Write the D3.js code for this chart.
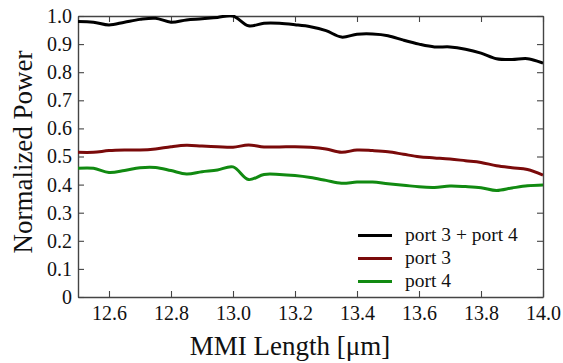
<!DOCTYPE html>
<html>
<head>
<meta charset="utf-8">
<script src="https://cdn.jsdelivr.net/npm/d3@7"></script>
<style>
  body { margin: 0; background: #fff; }
  svg text { font-family: "Liberation Serif", "Times New Roman", serif; }
</style>
</head>
<body>
<div id="chart"></div>
<script>
// MMI length (um), sampled every 0.05
const lengths = [12.5, 12.55, 12.6, 12.65, 12.7, 12.75, 12.8, 12.85, 12.9, 12.95,
                 13.0, 13.05, 13.1, 13.15, 13.2, 13.25, 13.3, 13.35, 13.4, 13.45,
                 13.5, 13.55, 13.6, 13.65, 13.7, 13.75, 13.8, 13.85, 13.9, 13.95, 14.0];
const port34 = [0.980, 0.978, 0.968, 0.978, 0.988, 0.992, 0.978, 0.986, 0.990, 0.995,
                1.000, 0.965, 0.974, 0.974, 0.969, 0.962, 0.948, 0.925, 0.935, 0.936,
                0.930, 0.914, 0.900, 0.890, 0.890, 0.882, 0.868, 0.848, 0.845, 0.848, 0.832];
const port3 = [0.515, 0.515, 0.521, 0.523, 0.523, 0.527, 0.535, 0.540, 0.537, 0.535,
               0.533, 0.541, 0.534, 0.534, 0.535, 0.533, 0.527, 0.515, 0.523, 0.521,
               0.517, 0.508, 0.499, 0.495, 0.491, 0.485, 0.479, 0.467, 0.460, 0.454, 0.434];
const port4 = [0.458, 0.458, 0.443, 0.450, 0.460, 0.461, 0.450, 0.438, 0.446, 0.452,
               0.463, 0.418, 0.436, 0.436, 0.432, 0.425, 0.415, 0.405, 0.409, 0.409,
               0.403, 0.398, 0.392, 0.390, 0.395, 0.393, 0.389, 0.379, 0.388, 0.396, 0.399];
const seriesNames = ["port 3 + port 4", "port 3", "port 4"];
const xTicks = [12.6, 12.8, 13.0, 13.2, 13.4, 13.6, 13.8, 14.0];
const yTicks = [0, 0.1, 0.2, 0.3, 0.4, 0.5, 0.6, 0.7, 0.8, 0.9, 1.0];

const w = 563, h = 363;
const plotL = 78, plotR = 543, plotT = 16, plotB = 297;
const colors = ["#000000", "#7a0a0a", "#118a11"];
const serif = "'Liberation Serif', 'Times New Roman', serif";

const svg = d3.select("#chart").append("svg")
  .attr("width", w).attr("height", h)
  .attr("font-family", serif);

const xScale = d3.scaleLinear().domain([12.5, 14.0]).range([plotL, plotR]);
const yScale = d3.scaleLinear().domain([0, 1.0]).range([plotB, plotT]);

const axisColor = "#444";
const fmtY = (d) => d === 0 ? "0" : d3.format(".1f")(d);

const gx = svg.append("g")
  .attr("transform", "translate(0," + plotB + ")")
  .call(d3.axisBottom(xScale).tickValues(xTicks).tickFormat(d3.format(".1f"))
        .tickSize(-6).tickSizeOuter(0).tickPadding(9));
const gxTop = svg.append("g")
  .attr("transform", "translate(0," + plotT + ")")
  .call(d3.axisTop(xScale).tickValues(xTicks).tickFormat("")
        .tickSize(-6).tickSizeOuter(0));
const gy = svg.append("g")
  .attr("transform", "translate(" + plotL + ",0)")
  .call(d3.axisLeft(yScale).tickValues(yTicks).tickFormat(fmtY)
        .tickSize(-6).tickSizeOuter(0).tickPadding(6));
const gyRight = svg.append("g")
  .attr("transform", "translate(" + plotR + ",0)")
  .call(d3.axisRight(yScale).tickValues(yTicks).tickFormat("")
        .tickSize(-6).tickSizeOuter(0));

[gx, gxTop, gy, gyRight].forEach((g) => {
  g.attr("color", axisColor)
   .attr("font-family", serif)
   .attr("font-size", 20);
  g.select(".domain").attr("stroke-width", 1.4);
  g.selectAll(".tick line").attr("stroke-width", 1.1);
  g.selectAll("text").attr("fill", "#111");
});

svg.append("defs").append("clipPath").attr("id", "clip")
  .append("rect").attr("x", plotL).attr("y", plotT - 1)
  .attr("width", plotR - plotL).attr("height", plotB - plotT + 1);

const line = d3.line()
  .x((d, i) => xScale(lengths[i]))
  .y((d) => yScale(d))
  .curve(d3.curveCatmullRom.alpha(0.5));

[port34, port3, port4].forEach((vals, k) => {
  svg.append("path")
     .datum(vals)
     .attr("clip-path", "url(#clip)")
     .attr("fill", "none")
     .attr("stroke", colors[k])
     .attr("stroke-width", 3)
     .attr("stroke-linejoin", "round")
     .attr("d", line);
});

// legend
const legend = svg.append("g");
seriesNames.forEach((name, k) => {
  const ly = 235.5 + k * 23;
  legend.append("line")
    .attr("x1", 358).attr("x2", 392).attr("y1", ly).attr("y2", ly)
    .attr("stroke", colors[k]).attr("stroke-width", 3);
  legend.append("text")
    .attr("x", 405).attr("y", ly).attr("dy", "0.3em")
    .attr("font-size", 19.5).attr("fill", "#111")
    .text(name);
});

// axis titles
svg.append("text")
  .attr("x", 290).attr("y", 355)
  .attr("text-anchor", "middle")
  .attr("font-size", 27).attr("fill", "#111")
  .text("MMI Length [\u03bcm]");

svg.append("text")
  .attr("transform", "translate(32,152) rotate(-90)")
  .attr("text-anchor", "middle")
  .attr("font-size", 27).attr("fill", "#111")
  .text("Normalized Power");
</script>
</body>
</html>
